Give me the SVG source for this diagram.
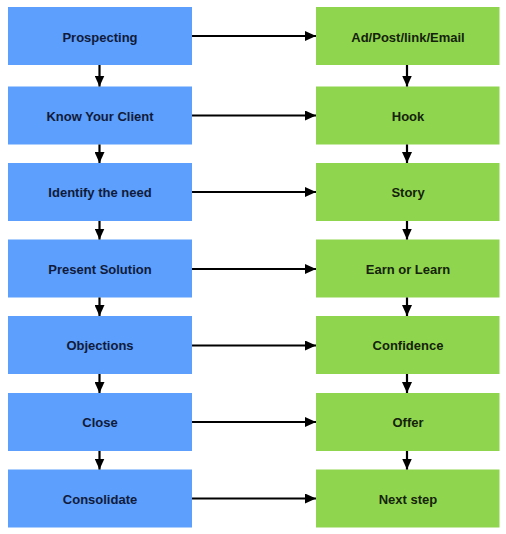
<svg xmlns="http://www.w3.org/2000/svg" width="506" height="534" viewBox="0 0 506 534">
<defs>
<marker id="ah" markerWidth="11" markerHeight="10" refX="11" refY="5" orient="auto" markerUnits="userSpaceOnUse">
<path d="M0,0 L11,5 L0,10 Z" fill="#000"/>
</marker>
<style>
.l rect{fill:#5c9ffc}
.r rect{fill:#8fd64e}
text{font-family:"Liberation Sans",Arial,sans-serif;font-weight:bold;font-size:13px;text-anchor:middle;dominant-baseline:central}
.l text{fill:#111a3a}
.r text{fill:#15220c}
#connectors line{stroke:#000;stroke-width:2.2;marker-end:url(#ah)}
</style>
</defs>
<rect width="506" height="534" fill="#fff"/>
<g id="n1" class="l"><rect x="8" y="7" width="184" height="58"/><text x="100" y="37">Prospecting</text></g>
<g id="n2" class="l"><rect x="8" y="86.5" width="184" height="58"/><text x="100" y="116">Know Your Client</text></g>
<g id="n3" class="l"><rect x="8" y="163" width="184" height="58"/><text x="100" y="192.5">Identify the need</text></g>
<g id="n4" class="l"><rect x="8" y="239.5" width="184" height="58"/><text x="100" y="269">Present Solution</text></g>
<g id="n5" class="l"><rect x="8" y="316" width="184" height="58"/><text x="100" y="345.5">Objections</text></g>
<g id="n6" class="l"><rect x="8" y="393" width="184" height="58"/><text x="100" y="422.5">Close</text></g>
<g id="n7" class="l"><rect x="8" y="469.5" width="184" height="58"/><text x="100" y="499">Consolidate</text></g>
<g id="m1" class="r"><rect x="316" y="7" width="183.5" height="58"/><text x="408" y="37">Ad/Post/link/Email</text></g>
<g id="m2" class="r"><rect x="316" y="86.5" width="183.5" height="58"/><text x="408" y="116">Hook</text></g>
<g id="m3" class="r"><rect x="316" y="163" width="183.5" height="58"/><text x="408" y="192.5">Story</text></g>
<g id="m4" class="r"><rect x="316" y="239.5" width="183.5" height="58"/><text x="408" y="269">Earn or Learn</text></g>
<g id="m5" class="r"><rect x="316" y="316" width="183.5" height="58"/><text x="408" y="345.5">Confidence</text></g>
<g id="m6" class="r"><rect x="316" y="393" width="183.5" height="58"/><text x="408" y="422.5">Offer</text></g>
<g id="m7" class="r"><rect x="316" y="469.5" width="183.5" height="58"/><text x="408" y="499">Next step</text></g>
<g id="connectors">
<line x1="99.5" y1="65" x2="99.5" y2="86.5"/>
<line x1="99.5" y1="144.5" x2="99.5" y2="163"/>
<line x1="99.5" y1="221" x2="99.5" y2="239.5"/>
<line x1="99.5" y1="297.5" x2="99.5" y2="316"/>
<line x1="99.5" y1="374" x2="99.5" y2="393"/>
<line x1="99.5" y1="451" x2="99.5" y2="469.5"/>
<line x1="407" y1="65" x2="407" y2="86.5"/>
<line x1="407" y1="144.5" x2="407" y2="163"/>
<line x1="407" y1="221" x2="407" y2="239.5"/>
<line x1="407" y1="297.5" x2="407" y2="316"/>
<line x1="407" y1="374" x2="407" y2="393"/>
<line x1="407" y1="451" x2="407" y2="469.5"/>
<line x1="192" y1="36" x2="316" y2="36"/>
<line x1="192" y1="115.5" x2="316" y2="115.5"/>
<line x1="192" y1="192" x2="316" y2="192"/>
<line x1="192" y1="269" x2="316" y2="269"/>
<line x1="192" y1="345.5" x2="316" y2="345.5"/>
<line x1="192" y1="422" x2="316" y2="422"/>
<line x1="192" y1="498.5" x2="316" y2="498.5"/>
</g>
</svg>
